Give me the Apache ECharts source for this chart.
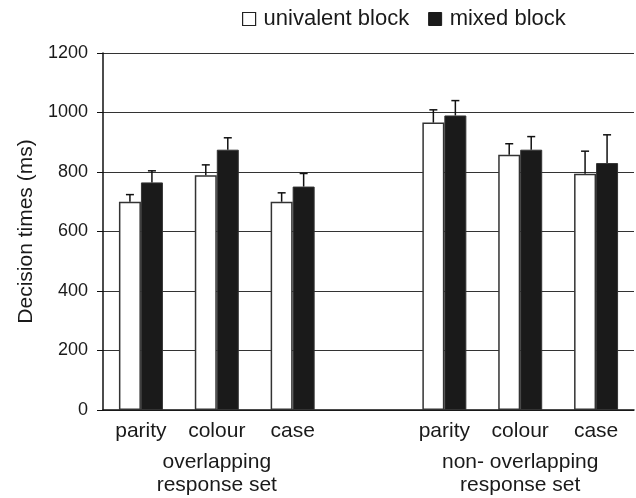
<!DOCTYPE html>
<html>
<head>
<meta charset="utf-8">
<script src="https://cdn.jsdelivr.net/npm/echarts@6/dist/echarts.min.js"></script>
<style>
html,body{margin:0;padding:0;background:#fff;}
#c{width:636px;height:498px;}
</style>
</head>
<body>
<div id="c"></div>
<script>
const categories = ['parity', 'colour', 'case', '', 'parity', 'colour', 'case'];
const groupLabels = ['', 'overlapping\nresponse set', '', '', '', 'non- overlapping\nresponse set', ''];
const univalent = [700, 789, 700, null, 966, 858, 794];
const univalentErr = [24, 35, 30, null, 43, 37, 76];
const mixed = [765, 875, 751, null, 990, 875, 830];
const mixedErr = [39, 40, 44, null, 50, 44, 95];
const yTicks = [0, 200, 400, 600, 800, 1000, 1200];

const FONT = "'Liberation Sans', Arial, sans-serif";
const TXT = '#1a1a1a';
const BAR_W = 22;

function errData(vals, errs) {
  const out = [];
  vals.forEach((v, i) => { if (v != null) out.push([i, v, errs[i]]); });
  return out;
}
function errRender(offset) {
  return function (params, api) {
    const i = api.value(0), v = api.value(1), e = api.value(2);
    const p0 = api.coord([i, v]);
    const p1 = api.coord([i, v + e]);
    const x = p0[0] + offset;
    const style = { stroke: '#111', lineWidth: 1.5 };
    return {
      type: 'group',
      children: [
        { type: 'line', shape: { x1: x, y1: p0[1], x2: x, y2: p1[1] }, style: style },
        { type: 'line', shape: { x1: x - 4, y1: p1[1], x2: x + 4, y2: p1[1] }, style: style }
      ]
    };
  };
}

const chart = echarts.init(document.getElementById('c'));
chart.setOption({
  animation: false,
  backgroundColor: '#fff',
  textStyle: { fontFamily: FONT, color: TXT },
  legend: {
    data: [
      { name: 'univalent block', itemStyle: { color: '#fff', borderColor: '#222', borderWidth: 1.2 } },
      { name: 'mixed block', itemStyle: { color: '#1a1a1a', borderColor: '#1a1a1a', borderWidth: 1 } }
    ],
    left: 237, top: 3,
    icon: 'rect', itemWidth: 13, itemHeight: 13, itemGap: 19,
    textStyle: { fontFamily: FONT, fontSize: 22, color: TXT, padding: [0, 0, 0, 3] }
  },
  grid: { left: 103, right: 2, top: 53, bottom: 88, containLabel: false },
  xAxis: [
    {
      type: 'category', data: categories,
      axisLine: { lineStyle: { color: '#111', width: 1.5 } },
      axisTick: { show: false },
      axisLabel: { fontFamily: FONT, fontSize: 21, color: TXT, margin: 11, interval: 0 }
    },
    {
      type: 'category', data: groupLabels, position: 'bottom',
      axisLine: { show: false }, axisTick: { show: false }, splitLine: { show: false },
      axisLabel: { fontFamily: FONT, fontSize: 21, color: TXT, margin: 41, interval: 0, lineHeight: 23 }
    }
  ],
  yAxis: {
    type: 'value', min: 0, max: 1200, interval: 200,
    name: 'Decision times (ms)', nameLocation: 'middle', nameGap: 63,
    nameTextStyle: { fontFamily: FONT, fontSize: 21, color: TXT },
    axisLine: { show: true, lineStyle: { color: '#111', width: 1.5 } },
    axisTick: { show: true, length: 6, lineStyle: { color: '#111', width: 1 } },
    axisLabel: { fontFamily: FONT, fontSize: 18, color: TXT, margin: 15,
      formatter: v => yTicks.includes(v) ? String(v) : '' },
    splitLine: { lineStyle: { color: '#333', width: 1.2 } }
  },
  series: [
    {
      name: 'univalent block', type: 'bar', data: univalent, barWidth: BAR_W, barGap: '0%',
      itemStyle: { color: '#fff', borderColor: '#333', borderWidth: 1.5 }, z: 2
    },
    {
      name: 'mixed block', type: 'bar', data: mixed, barWidth: BAR_W, barGap: '0%',
      itemStyle: { color: '#1a1a1a', borderColor: '#333', borderWidth: 1 }, z: 2
    },
    {
      name: 'err-uni', type: 'custom', data: errData(univalent, univalentErr),
      renderItem: errRender(-BAR_W / 2), encode: { x: 0, y: 1 }, z: 5
    },
    {
      name: 'err-mix', type: 'custom', data: errData(mixed, mixedErr),
      renderItem: errRender(BAR_W / 2), encode: { x: 0, y: 1 }, z: 5
    }
  ]
});
</script>
</body>
</html>
